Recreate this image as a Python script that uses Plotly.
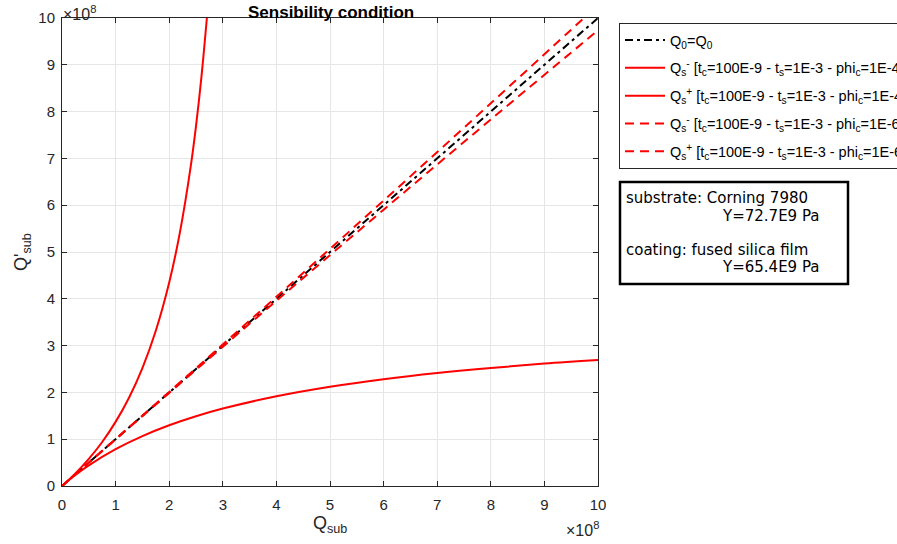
import plotly.graph_objects as go

# ---- data (units of 1e8) ----
x_ref = [0, 10]
y_ref = [0, 10]

x_minus4 = [0, 0.25, 0.5, 1, 1.5, 2, 2.5, 3, 4, 5, 6, 7, 8, 9, 10]
y_minus4 = [0, 0.234, 0.440, 0.786, 1.066, 1.297, 1.490, 1.654, 1.918, 2.122, 2.283, 2.414, 2.523, 2.615, 2.690]

x_plus4 = [0, 0.25, 0.5, 0.75, 1, 1.25, 1.5, 1.75, 2, 2.2, 2.4, 2.5, 2.6, 2.7, 2.72]
y_plus4 = [0, 0.268, 0.578, 0.940, 1.370, 1.887, 2.521, 3.318, 4.348, 5.419, 6.818, 7.692, 8.725, 9.963, 10.24]

x_minus6 = [0, 2, 4, 6, 8, 10]
y_minus6 = [0, 1.989, 3.957, 5.904, 7.831, 9.737]

x_plus6 = [0, 2, 4, 6, 8, 10]
y_plus6 = [0, 2.011, 4.044, 6.099, 8.177, 10.277]

ticks = [0, 1, 2, 3, 4, 5, 6, 7, 8, 9, 10]

W, H = 897, 544
L, R, T, B = 62, 598, 18, 486

def px(x):
    return (x - L) / (R - L)

def py(y):
    return (B - y) / (B - T)

leg_tail = " [t<sub>c</sub>=100E-9 - t<sub>s</sub>=1E-3 - phi<sub>c</sub>="
RED = "#ff0000"
DASH = "9px,6px"
DASHDOT = "8px,4px,3px,4px"

fig = go.Figure()
fig.add_trace(go.Scatter(x=x_ref, y=y_ref, mode="lines", legendgroup="g0",
                         line=dict(color="black", width=2, dash=DASHDOT),
                         name="Q<sub>0</sub>=Q<sub>0</sub>"))
fig.add_trace(go.Scatter(x=x_minus4, y=y_minus4, mode="lines", line_shape="spline", legendgroup="g1",
                         line=dict(color=RED, width=2),
                         name="Q<sub>s</sub><sup>-</sup>" + leg_tail + "1E-4]"))
fig.add_trace(go.Scatter(x=x_plus4, y=y_plus4, mode="lines", line_shape="spline", legendgroup="g2",
                         line=dict(color=RED, width=2),
                         name="Q<sub>s</sub><sup>+</sup>" + leg_tail + "1E-4]"))
fig.add_trace(go.Scatter(x=x_minus6, y=y_minus6, mode="lines", line_shape="spline", legendgroup="g3",
                         line=dict(color=RED, width=2, dash=DASH),
                         name="Q<sub>s</sub><sup>-</sup>" + leg_tail + "1E-6]"))
fig.add_trace(go.Scatter(x=x_plus6, y=y_plus6, mode="lines", line_shape="spline", legendgroup="g4",
                         line=dict(color=RED, width=2, dash=DASH),
                         name="Q<sub>s</sub><sup>+</sup>" + leg_tail + "1E-6]"))

axis_common = dict(range=[0, 10], tickvals=ticks, ticktext=[str(t) for t in ticks],
                   showgrid=True, gridcolor="#e6e6e6", gridwidth=1,
                   zeroline=False, showline=True, linecolor="#262626", linewidth=1,
                   mirror="ticks", ticks="inside", ticklen=5, tickcolor="#262626",
                   tickfont=dict(family="Liberation Sans, Arial", size=15, color="#262626"),
                   automargin=False)

fig.update_xaxes(**axis_common, ticklabelstandoff=5)
fig.update_yaxes(**axis_common, ticklabelstandoff=3)

fig.update_layout(
    width=W, height=H,
    margin=dict(l=L, r=W - R, t=T, b=H - B, autoexpand=False),
    paper_bgcolor="white", plot_bgcolor="white",
    font=dict(family="Liberation Sans, Arial", color="#262626"),
    showlegend=True,
    legend=dict(x=px(619), y=py(23), xanchor="left", yanchor="top",
                bordercolor="#262626", borderwidth=1, bgcolor="white",
                font=dict(family="Liberation Sans, Arial", size=14.5, color="black"),
                tracegroupgap=6, itemwidth=40),
)

BOXF = dict(family="DejaVu Sans", size=15, color="black")
anns = [
    dict(x=px(331), y=py(12), text="<b>Sensibility condition</b>", showarrow=False,
         xanchor="center", yanchor="middle", font=dict(size=17, color="black")),
    dict(x=px(330), y=py(524), text="Q<sub>sub</sub>", showarrow=False,
         xanchor="center", yanchor="middle", font=dict(size=18, color="#262626")),
    dict(x=px(22), y=py(252), text="Q'<sub>sub</sub>", showarrow=False, textangle=-90,
         xanchor="center", yanchor="middle", font=dict(size=18, color="#262626")),
    dict(x=px(61), y=py(13), text="×10<sup>8</sup>", showarrow=False,
         xanchor="left", yanchor="middle", font=dict(size=16, color="#262626")),
    dict(x=px(601), y=py(529), text="×10<sup>8</sup>", showarrow=False,
         xanchor="right", yanchor="middle", font=dict(size=16, color="#262626")),
    dict(x=px(624), y=py(198), text="substrate: Corning 7980", showarrow=False,
         xanchor="left", yanchor="middle", font=BOXF),
    dict(x=px(821), y=py(216), text="Y=72.7E9 Pa", showarrow=False,
         xanchor="right", yanchor="middle", font=BOXF),
    dict(x=px(624), y=py(250), text="coating: fused silica film", showarrow=False,
         xanchor="left", yanchor="middle", font=BOXF),
    dict(x=px(821), y=py(267), text="Y=65.4E9 Pa", showarrow=False,
         xanchor="right", yanchor="middle", font=BOXF),
]
for a in anns:
    a.update(xref="paper", yref="paper")
fig.update_layout(annotations=anns)

fig.add_shape(type="rect", xref="paper", yref="paper",
              x0=px(620), x1=px(848), y0=py(284), y1=py(182),
              line=dict(color="black", width=2.5), fillcolor="rgba(0,0,0,0)")

fig.write_html("out.html", config={"displayModeBar": False},
               post_script="document.body.style.margin='0';document.body.style.overflow='hidden';")
